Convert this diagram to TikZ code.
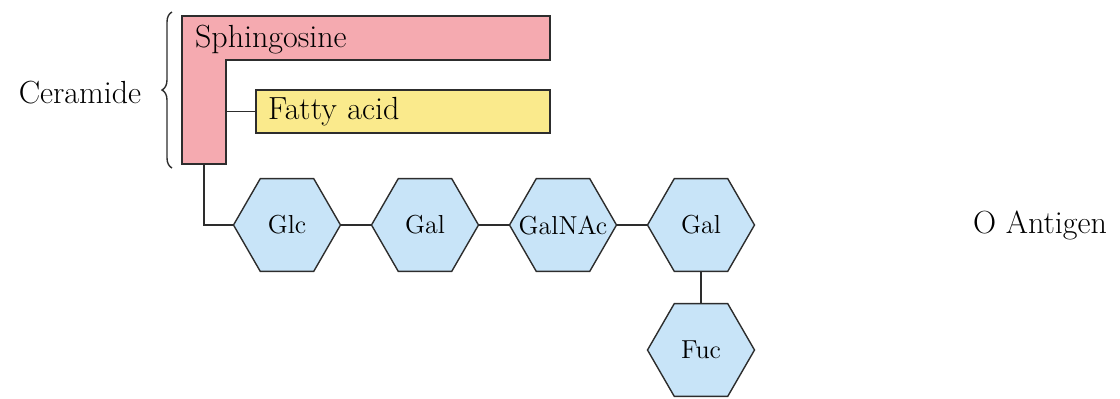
\documentclass[tikz,border=0pt]{standalone}
\usepackage{tikz}
\usetikzlibrary{shapes.geometric,decorations.pathreplacing}

\definecolor{sphpink}{RGB}{245,170,176}
\definecolor{fatyellow}{RGB}{250,234,140}
\definecolor{sugarblue}{RGB}{200,228,248}
\definecolor{linegray}{RGB}{45,45,45}

\begin{document}
\begin{tikzpicture}[x=0.5pt, y=-0.5pt]
    % Setup the styles for the parts
    \tikzset{sugar/.style={
        regular polygon,
        regular polygon sides=6,
        minimum size=53.5pt,
        inner sep=0pt,
        draw=linegray,
        line width=0.7pt,
        fill=sugarblue,
        label={[font=\fontsize{13}{15}\selectfont, inner sep=0pt]center:#1}},
        link/.style={draw=linegray, line width=0.7pt},
        label text/.style={font=\fontsize{16}{19}\selectfont}}
    \useasboundingbox (0,0) rectangle (1120,398);

    % Draw the sphingosine chain
    \draw[link, fill=sphpink]
        (182,16) -- (550,16) -- (550,60) -- (226,60) -- (226,164) -- (182,164) -- cycle;
    \coordinate (SphBase) at (204,164);
    \coordinate (SphSide) at (226,111.5);
    \node[label text, anchor=west] at (188,40) (Sph) {Sphingosine};

    % Draw the fatty acid
    \node[link, fill=fatyellow, label text,
          minimum width=147pt, minimum height=21.5pt,
          inner xsep=6pt, text width=135pt, align=left] at (403,111.5) (Fatty) {Fatty acid};

    % Draw the ceramide brace
    \draw[linegray, line width=0.7pt, decorate, decoration={brace, amplitude=5pt}]
        (172,168) -- (172,12);
    \node[label text] at (80,93) (Cer) {Ceramide};

    % Draw the sugar chain
    \node[sugar=Glc]    at (287,225) (Glc)    {};
    \node[sugar=Gal]    at (425,225) (Gal)    {};
    \node[sugar=GalNAc] at (563,225) (GalNAc) {};
    \node[sugar=Gal]    at (701,225) (GalB)   {};
    \node[sugar=Fuc]    at (701,350) (Fuc)    {};
    \node[label text] at (1040,225) (OAg) {O Antigen};

    % Connect the parts
    \draw[link] (SphSide) -- (Fatty.west);
    \draw[link] (SphBase) |- (Glc.west);
    \draw[link] (Glc.east) -- (Gal.west);
    \draw[link] (Gal.east) -- (GalNAc.west);
    \draw[link] (GalNAc.east) -- (GalB.west);
    \draw[link] (GalB.south) -- (Fuc.north);
\end{tikzpicture}
\end{document}
